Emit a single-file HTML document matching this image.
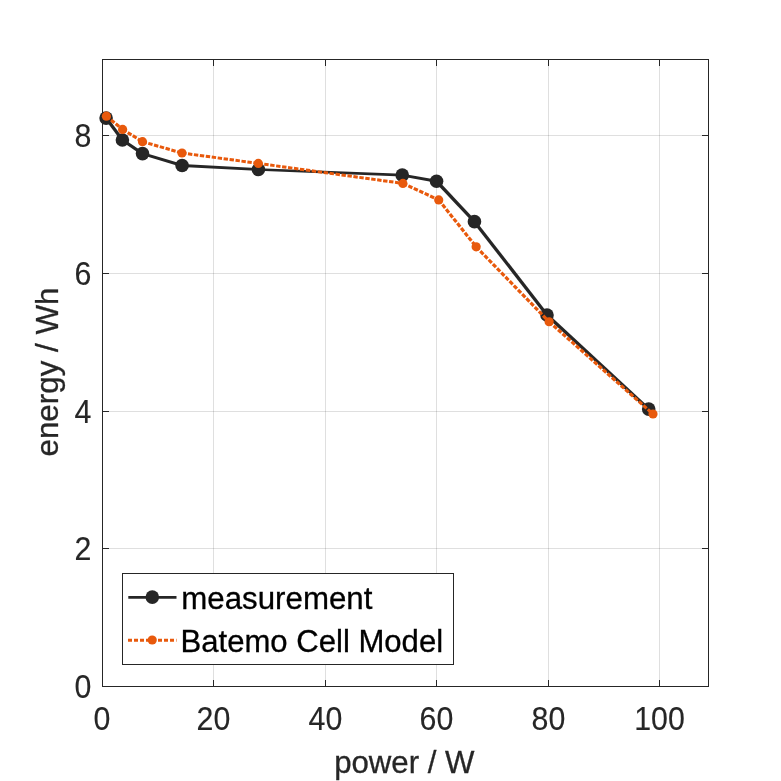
<!DOCTYPE html>
<html><head><meta charset="utf-8"><title>energy vs power</title>
<style>
html,body{margin:0;padding:0;background:#fff;}
svg{display:block;}
text{font-family:"Liberation Sans",sans-serif;}
</style></head><body>
<svg width="781" height="781" viewBox="0 0 781 781">
<rect x="0" y="0" width="781" height="781" fill="#ffffff"/>
<!-- grid -->
<g stroke="#262626" stroke-opacity="0.15" stroke-width="1" fill="none" shape-rendering="crispEdges">
<line x1="213.5" y1="60" x2="213.5" y2="686"/>
<line x1="325.5" y1="60" x2="325.5" y2="686"/>
<line x1="436.5" y1="60" x2="436.5" y2="686"/>
<line x1="548.5" y1="60" x2="548.5" y2="686"/>
<line x1="659.5" y1="60" x2="659.5" y2="686"/>
<line x1="103" y1="548.5" x2="708" y2="548.5"/>
<line x1="103" y1="411.5" x2="708" y2="411.5"/>
<line x1="103" y1="273.5" x2="708" y2="273.5"/>
<line x1="103" y1="135.5" x2="708" y2="135.5"/>
</g>
<!-- axes box and ticks -->
<g stroke="#262626" stroke-width="1" fill="none" shape-rendering="crispEdges">
<rect x="102.5" y="59.5" width="606" height="627"/>
<path d="M213.5 686v-6M325.5 686v-6M436.5 686v-6M548.5 686v-6M659.5 686v-6"/>
<path d="M213.5 60v6M325.5 60v6M436.5 60v6M548.5 60v6M659.5 60v6"/>
<path d="M103 548.5h6M103 411.5h6M103 273.5h6M103 135.5h6"/>
<path d="M708 548.5h-6M708 411.5h-6M708 273.5h-6M708 135.5h-6"/>
</g>
<!-- series: measurement -->
<g id="s1">
<g fill="none" stroke="#262626" stroke-linecap="butt">
<line x1="106.1" y1="118.1" x2="122.4" y2="140.0" stroke-width="3.27"/>
<line x1="122.4" y1="140.0" x2="142.5" y2="153.6" stroke-width="3.26"/>
<line x1="142.5" y1="153.6" x2="182.1" y2="165.5" stroke-width="3.03"/>
<line x1="182.1" y1="165.5" x2="258.4" y2="169.5" stroke-width="2.76"/>
<line x1="258.4" y1="169.5" x2="402.25" y2="175.15" stroke-width="2.75"/>
<line x1="402.25" y1="175.15" x2="436.55" y2="181.25" stroke-width="2.91"/>
<line x1="436.55" y1="181.25" x2="474.45" y2="221.65" stroke-width="3.30"/>
<line x1="474.45" y1="221.65" x2="547.0" y2="314.95" stroke-width="3.28"/>
<line x1="547.0" y1="314.95" x2="648.7" y2="409.1" stroke-width="3.30"/>
</g>
<g fill="#262626">
<circle cx="106.1" cy="118.1" r="6.8"/><circle cx="122.4" cy="140.0" r="6.8"/><circle cx="142.5" cy="153.6" r="6.8"/><circle cx="182.1" cy="165.5" r="6.8"/><circle cx="258.4" cy="169.5" r="6.8"/><circle cx="402.25" cy="175.15" r="6.8"/><circle cx="436.55" cy="181.25" r="6.8"/><circle cx="474.45" cy="221.65" r="6.8"/><circle cx="547.0" cy="314.95" r="6.8"/><circle cx="648.7" cy="409.1" r="6.8"/>
</g>
</g>
<!-- series: model -->
<g id="s2">
<g fill="none" stroke="#e8590c" stroke-linecap="butt">
<line x1="106.4" y1="116.2" x2="122.6" y2="129.4" stroke-width="3.19" stroke-dasharray="4.4 1.6"/>
<line x1="122.6" y1="129.4" x2="142.5" y2="141.7" stroke-width="3.17" stroke-dasharray="4.4 1.6"/>
<line x1="142.5" y1="141.7" x2="182.0" y2="153.0" stroke-width="3.06" stroke-dasharray="4.4 1.6"/>
<line x1="182.0" y1="153.0" x2="258.3" y2="163.4" stroke-width="2.98" stroke-dasharray="4.4 1.6"/>
<line x1="258.3" y1="163.4" x2="402.9" y2="183.4" stroke-width="2.98" stroke-dasharray="4.4 1.6"/>
<line x1="402.9" y1="183.4" x2="438.7" y2="199.9" stroke-width="3.13" stroke-dasharray="4.4 1.6"/>
<line x1="438.7" y1="199.9" x2="476.15" y2="246.85" stroke-width="3.19" stroke-dasharray="4.4 1.6"/>
<line x1="476.15" y1="246.85" x2="549.1" y2="321.75" stroke-width="3.20" stroke-dasharray="4.4 1.6"/>
<line x1="549.1" y1="321.75" x2="653.0" y2="414.0" stroke-width="3.20" stroke-dasharray="4.4 1.6"/>
</g>
<g fill="#e8590c">
<circle cx="106.4" cy="116.2" r="4.6"/><circle cx="122.6" cy="129.4" r="4.6"/><circle cx="142.5" cy="141.7" r="4.6"/><circle cx="182.0" cy="153.0" r="4.6"/><circle cx="258.3" cy="163.4" r="4.6"/><circle cx="402.9" cy="183.4" r="4.6"/><circle cx="438.7" cy="199.9" r="4.6"/><circle cx="476.15" cy="246.85" r="4.6"/><circle cx="549.1" cy="321.75" r="4.6"/><circle cx="653.0" cy="414.0" r="4.6"/>
</g>
</g>
<!-- tick labels -->
<g fill="#262626" stroke="#262626" stroke-width="0.15" font-size="33" text-anchor="middle">
<text transform="translate(102,729.5) scale(0.92,1)">0</text>
<text transform="translate(213.5,729.5) scale(0.92,1)">20</text>
<text transform="translate(325.5,729.5) scale(0.92,1)">40</text>
<text transform="translate(436.5,729.5) scale(0.92,1)">60</text>
<text transform="translate(548.5,729.5) scale(0.92,1)">80</text>
<text transform="translate(659.5,729.5) scale(0.92,1)">100</text>
</g>
<g fill="#262626" stroke="#262626" stroke-width="0.15" font-size="33" text-anchor="end">
<text transform="translate(91.5,698.0) scale(0.92,1)">0</text>
<text transform="translate(91.5,560.3) scale(0.92,1)">2</text>
<text transform="translate(91.5,422.6) scale(0.92,1)">4</text>
<text transform="translate(91.5,284.9) scale(0.92,1)">6</text>
<text transform="translate(91.5,147.2) scale(0.92,1)">8</text>
</g>
<!-- axis labels -->
<text id="xl" x="404.3" y="772.6" font-size="30.5" textLength="140.3" lengthAdjust="spacingAndGlyphs" fill="#262626" stroke="#262626" stroke-width="0.3" text-anchor="middle">power / W</text>
<text id="yl" transform="translate(57.6,372) rotate(-90)" font-size="31" textLength="169" lengthAdjust="spacingAndGlyphs" fill="#262626" stroke="#262626" stroke-width="0.3" text-anchor="middle">energy / Wh</text>
<!-- legend -->
<g id="legend">
<rect x="122.5" y="573.5" width="331" height="91" fill="#ffffff" stroke="#262626" stroke-width="1" shape-rendering="crispEdges"/>
<line x1="128.3" y1="597.4" x2="176.5" y2="597.4" stroke="#262626" stroke-width="2.7"/>
<circle cx="152.3" cy="597.1" r="6.8" fill="#262626"/>
<line x1="128" y1="640.2" x2="176.5" y2="640.2" stroke="#e8590c" stroke-width="3.1" stroke-dasharray="4 2"/>
<circle cx="152.2" cy="640" r="4.6" fill="#e8590c"/>
<text id="l1" x="181.3" y="609" font-size="31" textLength="191.1" lengthAdjust="spacingAndGlyphs" fill="#000" stroke="#000" stroke-width="0.3">measurement</text>
<text id="l2" x="180.5" y="652" font-size="31" textLength="262.6" lengthAdjust="spacingAndGlyphs" fill="#000" stroke="#000" stroke-width="0.3">Batemo Cell Model</text>
</g>
</svg>
</body></html>
